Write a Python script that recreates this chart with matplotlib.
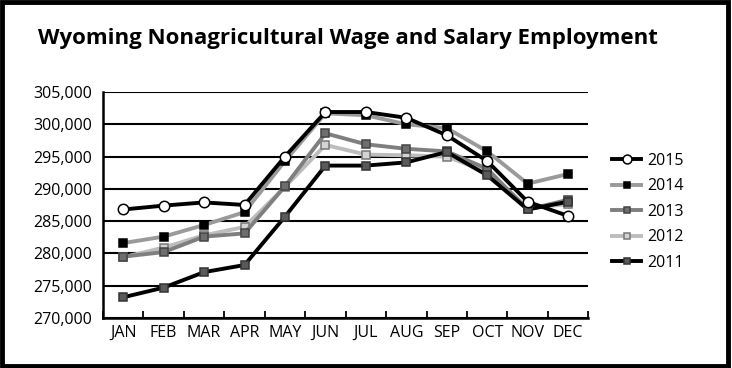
import matplotlib.pyplot as plt
from matplotlib.patches import Rectangle
from matplotlib.ticker import FuncFormatter

plt.rcParams['font.family'] = ['Open Sans', 'DejaVu Sans']

months = ['JAN', 'FEB', 'MAR', 'APR', 'MAY', 'JUN', 'JUL', 'AUG', 'SEP', 'OCT', 'NOV', 'DEC']

emp_2015 = [286800, 287400, 287900, 287500, 295000, 301900, 301900, 301000, 298300, 294300, 288000, 285800]
emp_2014 = [281600, 282600, 284400, 286400, 294300, 301700, 301400, 300000, 299400, 295800, 290800, 292300]
emp_2013 = [279500, 280200, 282600, 283100, 290400, 298600, 296900, 296200, 295800, 293100, 286800, 288300]
emp_2012 = [279400, 280900, 282800, 284100, 290300, 296800, 295300, 295200, 295000, 292600, 287100, 287600]
emp_2011 = [273200, 274700, 277100, 278200, 285700, 293600, 293600, 294100, 295700, 292100, 286800, 288000]

fig = plt.figure(figsize=(7.32, 3.68), dpi=100)
ax = fig.add_axes([0.1407, 0.136, 0.663, 0.614])

x = list(range(len(months)))

# series: (label, data, line colour, marker, face, edge, zorder)
series = [
    ('2015', emp_2015, 'black', 'o', 'white', 'black', 7),
    ('2014', emp_2014, '#9a9a9a', 's', 'black', 'black', 6),
    ('2013', emp_2013, '#7f7f7f', 's', '#6e6e6e', '#444444', 4),
    ('2012', emp_2012, '#bdbdbd', 's', '#d4d4d4', '#777777', 3),
    ('2011', emp_2011, 'black', 's', '#5a5a5a', '#333333', 5),
]

for label, data, lc, mk, fc, ec, z in series:
    ax.plot(x, data, color=lc, lw=2.8, marker=mk,
            markersize=7.5 if mk == 'o' else 5.5,
            markerfacecolor=fc, markeredgecolor=ec, markeredgewidth=1.1,
            label=label, zorder=z)

ax.set_ylim(270000, 305000)
ax.set_yticks(range(270000, 305001, 5000))
ax.yaxis.set_major_formatter(FuncFormatter(lambda v, p: f'{int(v):,}'))
ax.yaxis.grid(True, color='black', lw=1.5)
ax.set_axisbelow(True)
ax.tick_params(axis='y', length=0, labelsize=11.5, pad=8)

ax.set_xlim(-0.5, 11.5)
ax.set_xticks(x)
ax.set_xticklabels(months)
ax.set_xticks([i - 0.5 for i in range(13)], minor=True)
ax.tick_params(axis='x', which='major', length=0, labelsize=11.5, pad=5)
ax.tick_params(axis='x', which='minor', length=5, width=1.3, direction='in')

for s in ['top', 'right']:
    ax.spines[s].set_visible(False)
ax.spines['left'].set_linewidth(1.8)
ax.spines['bottom'].set_linewidth(1.8)

ax.legend(loc='center left', bbox_to_anchor=(1.02, 0.47), frameon=False,
          fontsize=11.5, handlelength=1.8, labelspacing=0.6, handletextpad=0.4,
          markerscale=0.85)

fig.text(0.052, 0.895, 'Wyoming Nonagricultural Wage and Salary Employment',
         fontsize=16, fontweight='bold', va='center', ha='left')

fig.patches.append(Rectangle((0.003, 0.005), 0.992, 0.99, transform=fig.transFigure,
                             fill=False, edgecolor='black', lw=3.5))

fig.savefig('out.png', dpi=100)
